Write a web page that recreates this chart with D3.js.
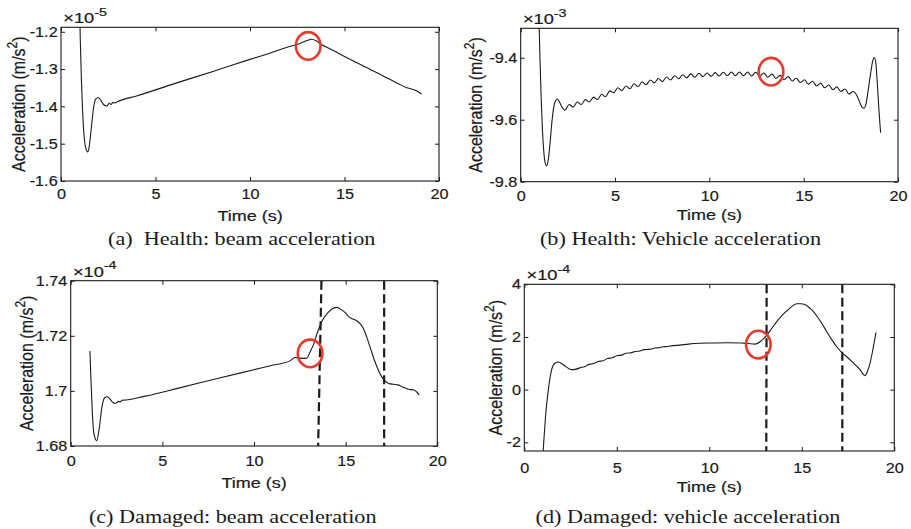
<!DOCTYPE html>
<html>
<head>
<meta charset="utf-8">
<script src="https://cdn.jsdelivr.net/npm/d3@7"></script>
<style>
  body { margin: 0; background: #fff; }
  svg { display: block; }
  .tick text { font-family: "Liberation Sans", Arial, sans-serif; font-size: 14.5px; fill: #1a1a1a; stroke: #1a1a1a; stroke-width: 0.2px; }
  .tick line { stroke: #1a1a1a; }
  .lab { font-family: "Liberation Sans", Arial, sans-serif; font-size: 15px; fill: #1a1a1a; stroke: #1a1a1a; stroke-width: 0.2px; }
  .cap { font-family: "Liberation Serif", "Times New Roman", serif; font-size: 18.5px; fill: #1a1a1a; }
</style>
</head>
<body>
<svg id="fig" width="911" height="529"></svg>
<script>
// ---- data ----
const timeTicks = [0, 5, 10, 15, 20];

// (a) healthy beam, x1e-5
const beamHealthTicks = [-1.6, -1.5, -1.4, -1.3, -1.2];
const beamHealthLabels = ["-1.6", "-1.5", "-1.4", "-1.3", "-1.2"];
const beamHealth = [
  [0.97, -1.10], [1.02, -1.22], [1.08, -1.33], [1.15, -1.42], [1.24, -1.49], [1.33, -1.515],
  [1.41, -1.522], [1.50, -1.505], [1.60, -1.46], [1.72, -1.405], [1.84, -1.38], [1.97, -1.376],
  [2.10, -1.383], [2.25, -1.395], [2.42, -1.399], [2.55, -1.392], [2.65, -1.395], [2.75, -1.389],
  [2.85, -1.391], [3.0, -1.387], [4.0, -1.372], [6.0, -1.339], [8.0, -1.307], [10.0, -1.274],
  [11.0, -1.258], [12.0, -1.241], [12.6, -1.232], [13.0, -1.224], [13.25, -1.220], [13.5, -1.224],
  [13.8, -1.235], [14.2, -1.245], [15.0, -1.266], [16.0, -1.292], [17.0, -1.317], [17.8, -1.338],
  [18.3, -1.350], [18.6, -1.354], [18.8, -1.358], [19.08, -1.367]
];

// (b) healthy vehicle, x1e-3
const vehHealthTicks = [-9.8, -9.6, -9.4];
const vehHealthLabels = ["-9.8", "-9.6", "-9.4"];
const vehHealth = [
  [0.96, -9.25], [1.02, -9.40], [1.08, -9.52], [1.15, -9.63], [1.22, -9.70], [1.30, -9.74],
  [1.38, -9.749], [1.46, -9.73], [1.55, -9.68], [1.65, -9.61], [1.75, -9.56], [1.85, -9.538],
  [1.94, -9.533], [2.05, -9.542], [2.18, -9.558], [2.35, -9.569],
  [2.57, -9.551], [2.78, -9.559], [3.00, -9.543], [3.21, -9.551], [3.43, -9.535], [3.64, -9.543],
  [3.86, -9.527], [4.07, -9.535], [4.29, -9.518], [4.50, -9.526], [4.72, -9.507], [4.93, -9.513],
  [5.15, -9.497], [5.36, -9.506], [5.58, -9.491], [5.79, -9.500], [6.01, -9.484], [6.22, -9.493],
  [6.44, -9.478], [6.65, -9.487], [6.87, -9.472], [7.08, -9.481], [7.30, -9.467], [7.51, -9.477],
  [7.73, -9.462], [7.94, -9.472], [8.16, -9.458], [8.37, -9.468], [8.59, -9.455], [8.80, -9.465],
  [9.02, -9.452], [9.23, -9.463], [9.45, -9.450], [9.66, -9.461], [9.88, -9.449], [10.09, -9.460],
  [10.31, -9.448], [10.52, -9.459], [10.74, -9.447], [10.95, -9.458], [11.17, -9.446], [11.38, -9.458],
  [11.60, -9.446], [11.81, -9.458], [12.03, -9.446], [12.24, -9.459], [12.46, -9.447], [12.67, -9.460],
  [12.89, -9.449], [13.10, -9.463], [13.32, -9.453], [13.53, -9.467], [13.75, -9.457], [13.96, -9.471],
  [14.18, -9.461], [14.39, -9.475], [14.61, -9.466], [14.82, -9.480], [15.04, -9.471], [15.25, -9.485],
  [15.47, -9.476], [15.68, -9.491], [15.90, -9.482], [16.11, -9.497], [16.33, -9.488], [16.54, -9.503],
  [16.76, -9.494], [16.97, -9.509], [17.19, -9.501], [17.40, -9.517], [17.62, -9.509],
  [17.82, -9.522], [17.98, -9.545], [18.10, -9.560], [18.20, -9.563], [18.30, -9.550], [18.42, -9.505],
  [18.55, -9.45], [18.66, -9.41], [18.74, -9.399], [18.82, -9.415], [18.90, -9.48], [18.98, -9.56],
  [19.05, -9.62], [19.08, -9.642]
];

// (c) damaged beam, x1e-4
const beamDamTicks = [1.68, 1.70, 1.72, 1.74];
const beamDamLabels = ["1.68", "1.7", "1.72", "1.74"];
const beamDam = [
  [1.05, 1.7145], [1.10, 1.705], [1.18, 1.692], [1.28, 1.684], [1.42, 1.6819], [1.55, 1.686],
  [1.70, 1.694], [1.85, 1.6975], [2.0, 1.6979], [2.15, 1.697], [2.3, 1.6958], [2.47, 1.6955],
  [2.6, 1.6962], [2.7, 1.696], [2.8, 1.6966], [3.0, 1.6967], [4.0, 1.6980], [6.0, 1.7012],
  [8.0, 1.7045], [10.0, 1.7077], [11.0, 1.7093], [11.96, 1.7109], [12.24, 1.7121], [12.5, 1.7119],
  [12.87, 1.7118], [13.05, 1.714], [13.24, 1.7167], [13.45, 1.721], [13.69, 1.7251], [14.05, 1.7285],
  [14.3, 1.7299], [14.51, 1.7303], [14.75, 1.7296], [14.96, 1.7285], [15.24, 1.7266], [15.6, 1.7255],
  [15.8, 1.7243], [15.96, 1.7227], [16.15, 1.7195], [16.33, 1.7160], [16.55, 1.7115], [16.78, 1.7076],
  [17.0, 1.7048], [17.15, 1.7036], [17.35, 1.7027], [17.6, 1.7024], [17.87, 1.7022], [18.1, 1.7014],
  [18.42, 1.7006], [18.73, 1.7003], [18.88, 1.6996], [19.02, 1.6985]
];

// (d) damaged vehicle, x1e-4
const vehDamTicks = [-2, 0, 2, 4];
const vehDamLabels = ["-2", "0", "2", "4"];
const vehDam = [
  [0.98, -2.8], [1.05, -2.0], [1.15, -1.0], [1.3, 0], [1.48, 0.76], [1.65, 1.0], [1.84, 1.05],
  [2.0, 1.0], [2.2, 0.9], [2.4, 0.8], [2.56, 0.76], [2.8, 0.78], [3.1, 0.85], [3.3, 0.88], [3.46, 0.95],
  [3.7, 0.98], [4.0, 1.07], [4.25, 1.10], [4.5, 1.18], [4.75, 1.21], [5.0, 1.29], [5.25, 1.31],
  [5.5, 1.38], [5.75, 1.40], [6.0, 1.45], [6.25, 1.47], [6.5, 1.52], [6.75, 1.53], [7.07, 1.58],
  [7.3, 1.59], [7.5, 1.63], [7.75, 1.64], [8.0, 1.67], [8.4, 1.69], [8.87, 1.73], [9.5, 1.76],
  [10.0, 1.77], [11.0, 1.78], [11.75, 1.77],
  [12.1, 1.75], [12.47, 1.73], [12.8, 1.85], [13.1, 2.06], [13.4, 2.35], [13.73, 2.66], [14.0, 2.87],
  [14.27, 3.04], [14.5, 3.18], [14.72, 3.26], [14.95, 3.26], [15.17, 3.23], [15.4, 3.12], [15.62, 2.97],
  [15.85, 2.76], [16.07, 2.53], [16.35, 2.2], [16.62, 1.90], [16.9, 1.62], [17.19, 1.39], [17.45, 1.24],
  [17.7, 1.07], [17.95, 0.9], [18.15, 0.76], [18.3, 0.6], [18.42, 0.53], [18.55, 0.7], [18.69, 1.01],
  [18.85, 1.55], [19.01, 2.17]
];

// damage zone markers [time at top, time at bottom]
const beamDamMarks = [[13.68, 13.50], [17.10, 17.10]];
const vehDamMarks = [[13.10, 13.08], [17.19, 17.19]];

// red circles [time, value]
const beamHealthMark = [13.08, -1.238];
const vehHealthMark = [13.27, -9.445];
const beamDamMark = [13.06, 1.7136];
const vehDamMark = [12.65, 1.71];

const captions = [
  "(a)\u00a0 Health: beam acceleration",
  "(b) Health: Vehicle acceleration",
  "(c) Damaged: beam acceleration",
  "(d) Damaged: vehicle acceleration"
];
const exponents = ["-5", "-3", "-4", "-4"];

// ---- layout ----
const panels = [
  { box: [61, 439, 27.3, 181], yDom: [-1.6, -1.188], yTicks: beamHealthTicks, yLabels: beamHealthLabels,
    data: beamHealth, marks: [], circle: beamHealthMark, exp: exponents[0], cap: captions[0],
    ylabX: -36, pad: 8, xlabDy: 39.5, capX: 241.7, capY: 245 },
  { box: [520.7, 898, 28.3, 181.7], yDom: [-9.8, -9.305], yTicks: vehHealthTicks, yLabels: vehHealthLabels,
    data: vehHealth, marks: [], circle: vehHealthMark, exp: exponents[1], cap: captions[1],
    ylabX: -39, pad: 8.7, xlabDy: 38.5, capX: 680.5, capY: 245 },
  { box: [70.7, 437.3, 280.7, 446], yDom: [1.68, 1.74], yTicks: beamDamTicks, yLabels: beamDamLabels,
    data: beamDam, marks: beamDamMarks, circle: beamDamMark, exp: exponents[2], cap: captions[2],
    ylabX: -37.5, pad: 9.7, xlabDy: 42.3, capX: 232.7, capY: 523 },
  { box: [524.3, 894.3, 284.3, 451], yDom: [-2.33, 4], yTicks: vehDamTicks, yLabels: vehDamLabels,
    data: vehDam, marks: vehDamMarks, circle: vehDamMark, exp: exponents[3], cap: captions[3],
    ylabX: -22.5, pad: 11.4, xlabDy: 40.7, capX: 688, capY: 523 }
];

const svg = d3.select("#fig");
const ink = "#1a1a1a";
const SX = 1.2;   // the source figure is stretched horizontally
const TX = 1.12;  // tick labels are stretched a little less

panels.forEach((p, i) => {
  const [x0, x1, y0, y1] = p.box;
  const x = d3.scaleLinear().domain([0, 20]).range([x0, x1]);
  const y = d3.scaleLinear().domain(p.yDom).range([y1, y0]);
  const g = svg.append("g");

  const clipId = "clip" + i;
  svg.append("clipPath").attr("id", clipId)
    .append("rect").attr("x", x0).attr("y", y0).attr("width", x1 - x0).attr("height", y1 - y0);

  // axes, ticks pointing inward
  const bottom = g.append("g").attr("transform", `translate(0,${y1})`)
    .call(d3.axisBottom(x).tickValues(timeTicks).tickSizeInner(-4).tickSizeOuter(0).tickPadding(p.pad));
  bottom.selectAll("text").attr("transform", `scale(${TX},1)`);
  g.append("g").attr("transform", `translate(0,${y0})`)
    .call(d3.axisTop(x).tickValues(timeTicks).tickSizeInner(-4).tickSizeOuter(0).tickFormat(""));
  const left = g.append("g").attr("transform", `translate(${x0},0)`)
    .call(d3.axisLeft(y).tickValues(p.yTicks).tickSizeInner(-4).tickSizeOuter(0).tickPadding(3)
      .tickFormat((d, k) => p.yLabels[k]));
  left.selectAll("text").attr("transform", `scale(${TX},1)`);
  g.append("g").attr("transform", `translate(${x1},0)`)
    .call(d3.axisRight(y).tickValues(p.yTicks).tickSizeInner(-4).tickSizeOuter(0).tickFormat(""));
  g.selectAll(".domain").remove();

  g.append("rect").attr("x", x0).attr("y", y0).attr("width", x1 - x0).attr("height", y1 - y0)
    .attr("fill", "none").attr("stroke", ink).attr("stroke-width", 1.1);

  const plot = g.append("g").attr("clip-path", `url(#${clipId})`);
  plot.append("path").datum(p.data)
    .attr("fill", "none").attr("stroke", ink).attr("stroke-width", 1.1)
    .attr("d", d3.line().x(d => x(d[0])).y(d => y(d[1])).curve(d3.curveMonotoneX));

  plot.selectAll("line.mark").data(p.marks).join("line")
    .attr("class", "mark")
    .attr("x1", d => x(d[0])).attr("y1", y(p.yDom[1]))
    .attr("x2", d => x(d[1])).attr("y2", y(p.yDom[0]))
    .attr("stroke", ink).attr("stroke-width", 2.2).attr("stroke-dasharray", "9,4.5");

  g.append("ellipse")
    .attr("cx", x(p.circle[0])).attr("cy", y(p.circle[1]))
    .attr("rx", 12.3).attr("ry", 13.8)
    .attr("fill", "none").attr("stroke", "#e63b2e").attr("stroke-width", 2.6);

  // x10^n
  const ex = g.append("text").attr("class", "lab")
    .attr("transform", `translate(${x0 + 2.3},${y0 - 4}) scale(1.3,1)`)
    .style("font-size", "14px");
  ex.append("tspan").text("\u00d710");
  ex.append("tspan").attr("dy", -7.5).style("font-size", "11px").text(p.exp);

  // axis labels
  g.append("text").attr("class", "lab").attr("text-anchor", "middle")
    .attr("transform", `translate(${(x0 + x1) / 2},${y1 + p.xlabDy}) scale(${SX},1)`)
    .text("Time (s)");

  const yl = g.append("text").attr("class", "lab").attr("text-anchor", "middle")
    .attr("transform", `translate(${x0 + p.ylabX},${(y0 + y1) / 2}) rotate(-90) scale(1,${SX})`)
    .style("font-size", "16px");
  yl.append("tspan").text("Acceleration (m/s");
  yl.append("tspan").attr("dy", -6.5).style("font-size", "12px").text("2");
  yl.append("tspan").attr("dy", 6.5).text(")");

  g.append("text").attr("class", "cap").attr("text-anchor", "middle")
    .attr("transform", `translate(${p.capX},${p.capY}) scale(${SX},1)`)
    .text(p.cap);
});
</script>
</body>
</html>
